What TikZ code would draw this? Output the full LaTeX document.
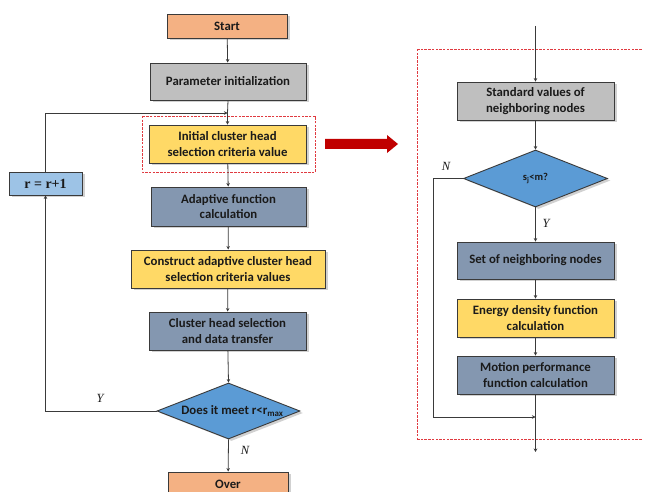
\documentclass[tikz,border=0pt]{standalone}
\usepackage{fontspec}
\setmainfont{Carlito}
\newfontfamily\tms{Liberation Serif}
\usetikzlibrary{shapes.geometric,arrows.meta,shadows}
\definecolor{cOrange}{HTML}{F4B183}
\definecolor{cGray}{HTML}{BFBFBF}
\definecolor{cYellow}{HTML}{FFD966}
\definecolor{cSlate}{HTML}{8497B0}
\definecolor{cBlue}{HTML}{5B9BD5}
\definecolor{cLight}{HTML}{9DC3E6}
\definecolor{cEdge}{HTML}{3A3A3A}
\definecolor{cText}{HTML}{1A1A1A}
\definecolor{cRed}{HTML}{C00000}
\definecolor{cDash}{HTML}{E03A40}
\tikzset{
  box/.style={draw=cEdge, line width=0.9pt, rectangle, inner sep=1pt, align=center,
    font=\fontsize{12.8}{15.5}\selectfont\bfseries, text=cText,
    drop shadow={shadow xshift=3pt, shadow yshift=-2pt, opacity=0.18, fill=black}},
  dia/.style={draw=cEdge, line width=0.9pt, diamond, inner sep=0pt, fill=cBlue,
    drop shadow={shadow xshift=3pt, shadow yshift=-2pt, opacity=0.18, fill=black}},
  conn/.style={draw=cEdge, line width=0.8pt},
  arr/.style={conn, -{Stealth[length=3.5pt,width=3.5pt]}},
  lbl/.style={font=\tms\itshape\fontsize{12.5}{14}\selectfont, text=cText},
  redbox/.style={draw=cDash, dash pattern=on 2.5pt off 1.2pt, line width=0.9pt},
  dashbit/.style={fill=cDash}
}
\begin{document}
\begin{tikzpicture}[x=1pt,y=-1pt]
\useasboundingbox (0,0) rectangle (645,492);
\fill[white] (0,0) rectangle (645,492);
% dashed frames
\draw[redbox] (142,116) rectangle (315,172);
\foreach \x in {417,420.7,...,642} {
  \fill[dashbit] (\x,49.05) rectangle (\x+2.5,49.95);
  \fill[dashbit] (\x,439.05) rectangle (\x+2.5,439.95);
}
\foreach \y in {49,52.7,...,438} {
  \fill[dashbit] (417.05,\y) rectangle (417.95,\y+2.5);
}
% left chart
\node[box, fill=cOrange, minimum width=120pt, minimum height=24pt] (start) at (227,26) {Start};
\node[box, fill=cGray, minimum width=156pt, minimum height=37pt] (param) at (228,81.5) {Parameter initialization};
\node[box, fill=cYellow, minimum width=157pt, minimum height=38pt] (init) at (227.5,144) {Initial cluster head\\selection criteria value};
\node[box, fill=cSlate, minimum width=155pt, minimum height=39pt] (adapt) at (228.5,206.5) {Adaptive function\\calculation};
\node[box, fill=cYellow, minimum width=194pt, minimum height=38pt] (constr) at (228,269) {Construct adaptive cluster head\\selection criteria values};
\node[box, fill=cSlate, minimum width=157pt, minimum height=38pt] (sel) at (227.5,331) {Cluster head selection\\and data transfer};
\node[dia, minimum width=143pt, minimum height=56pt] (d1) at (228.5,411) {};
\node[font=\fontsize{12.8}{15.5}\selectfont\bfseries, text=cText, xshift=4pt] (d1t) at (d1.center) {Does it meet r<r\textsubscript{max}};
\node[box, fill=cLight, minimum width=73pt, minimum height=23pt, font=\tms\bfseries\fontsize{14}{16}\selectfont] (inc) at (45.5,183.5) {r = r+1};
\begin{scope}
\clip (0,0) rectangle (645,492);
\node[box, fill=cOrange, minimum width=120pt, minimum height=24pt] (over) at (228,484) {Over};
\end{scope}
\coordinate (j1) at (227.5,113);
\draw[arr] (start) -- (param);
\draw[conn] (param.south) -- (j1);
\draw[arr] (j1) -- (init.north);
\draw[arr] (init) -- (adapt);
\draw[arr] (adapt) -- (constr);
\draw[arr] (constr) -- (sel);
\draw[arr] (sel) -- (d1.north);
\draw[arr] (d1.south) -- (over);
\draw[arr] (d1.west) -- (inc.south |- d1.west) -- (inc.south);
\draw[arr] (inc.north) -- (inc.north |- j1) -- (j1);
\node[lbl] (ly) at (100,398) {Y};
\node[lbl] (ln) at (245,450) {N};
% red arrow
\fill[cRed] (325,139) -- (387,139) -- (387,135) -- (398,144) -- (387,153) -- (387,149) -- (325,149) -- cycle;
% right chart
\coordinate (top) at (535.5,26);
\node[box, fill=cGray, minimum width=157pt, minimum height=38pt] (std) at (535.5,101) {Standard values of\\neighboring nodes};
\node[dia, minimum width=144pt, minimum height=57pt] (d2) at (535.5,178.5) {};
\node[font=\fontsize{10.5}{12}\selectfont\bfseries, text=cText] (d2t) at (d2.center) {s\textsubscript{j}<m?};
\node[box, fill=cSlate, minimum width=157pt, minimum height=37pt] (setn) at (535.5,260.5) {Set of neighboring nodes};
\node[box, fill=cYellow, minimum width=157pt, minimum height=38pt] (energy) at (535.5,318) {Energy density function\\calculation};
\node[box, fill=cSlate, minimum width=157pt, minimum height=38pt] (motion) at (535.5,375) {Motion performance\\function calculation};
\coordinate (j2) at (535.5,417);
\coordinate (bot) at (535.5,452);
\draw[arr] (top) -- (std);
\draw[arr] (std) -- (d2.north);
\draw[arr] (d2.south) -- (setn);
\draw[arr] (setn) -- (energy);
\draw[arr] (energy) -- (motion);
\draw[conn] (motion) -- (j2);
\draw[arr] (j2) -- (bot);
\draw[arr] (d2.west) -- (433,178.5) -- (433,417) -- (j2);
\node[lbl] (ln2) at (446,166) {N};
\node[lbl] (ly2) at (546,223) {Y};
\end{tikzpicture}
\end{document}
